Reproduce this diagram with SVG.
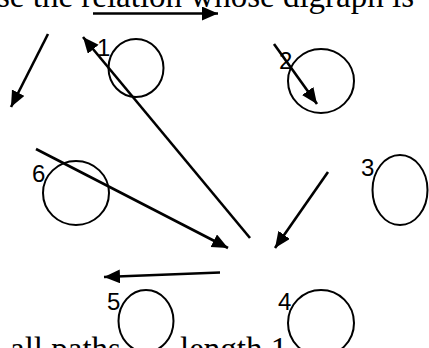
<svg xmlns="http://www.w3.org/2000/svg" width="429" height="348" viewBox="0 0 429 348">
<defs>
<style>
.bg{fill:#fff}
.txt{font-family:"Liberation Serif","Times New Roman",serif;font-size:33px;fill:#000}
.node{fill:none;stroke:#000;stroke-width:2}
.lbl{font-family:"Liberation Sans",Arial,sans-serif;font-size:24px;fill:#000}
.edge{stroke:#000;stroke-width:2.6;fill:none;marker-end:url(#ah)}
</style>
<marker id="ah" markerUnits="userSpaceOnUse" markerWidth="17" markerHeight="15" refX="16" refY="7" orient="auto">
<path d="M0,0 L16,7 L0,14 z" fill="#000"/>
</marker>
</defs>
<rect class="bg" x="0" y="0" width="429" height="348"/>
<text class="txt" x="-3" y="7">se the relation whose digraph is</text>
<text class="txt" x="10" y="360">all paths</text>
<text class="txt" x="180" y="360">length 1</text>
<g id="node1"><ellipse class="node" cx="136" cy="68" rx="27.5" ry="29"/><text class="lbl" x="97" y="56">1</text></g>
<g id="node2"><ellipse class="node" cx="321" cy="81" rx="33" ry="32"/><text class="lbl" x="279" y="69">2</text></g>
<g id="node3"><ellipse class="node" cx="400" cy="190" rx="27.5" ry="35"/><text class="lbl" x="361" y="176">3</text></g>
<g id="node4"><ellipse class="node" cx="321" cy="323" rx="33" ry="33"/><text class="lbl" x="278" y="310">4</text></g>
<g id="node5"><ellipse class="node" cx="146" cy="321" rx="27.5" ry="31"/><text class="lbl" x="107" y="310">5</text></g>
<g id="node6"><ellipse class="node" cx="76" cy="193" rx="33" ry="32"/><text class="lbl" x="32" y="182">6</text></g>
<g id="connectors">
<line class="edge" x1="93" y1="13.5" x2="218" y2="13.5"/>
<line class="edge" x1="48" y1="34" x2="11" y2="107"/>
<line class="edge" x1="250" y1="238" x2="83" y2="37"/>
<line class="edge" x1="274" y1="44" x2="317" y2="104"/>
<line class="edge" x1="36" y1="149" x2="228" y2="248"/>
<line class="edge" x1="328" y1="172" x2="275" y2="248"/>
<line class="edge" x1="220" y1="272.5" x2="104" y2="277"/>
</g>
</svg>
